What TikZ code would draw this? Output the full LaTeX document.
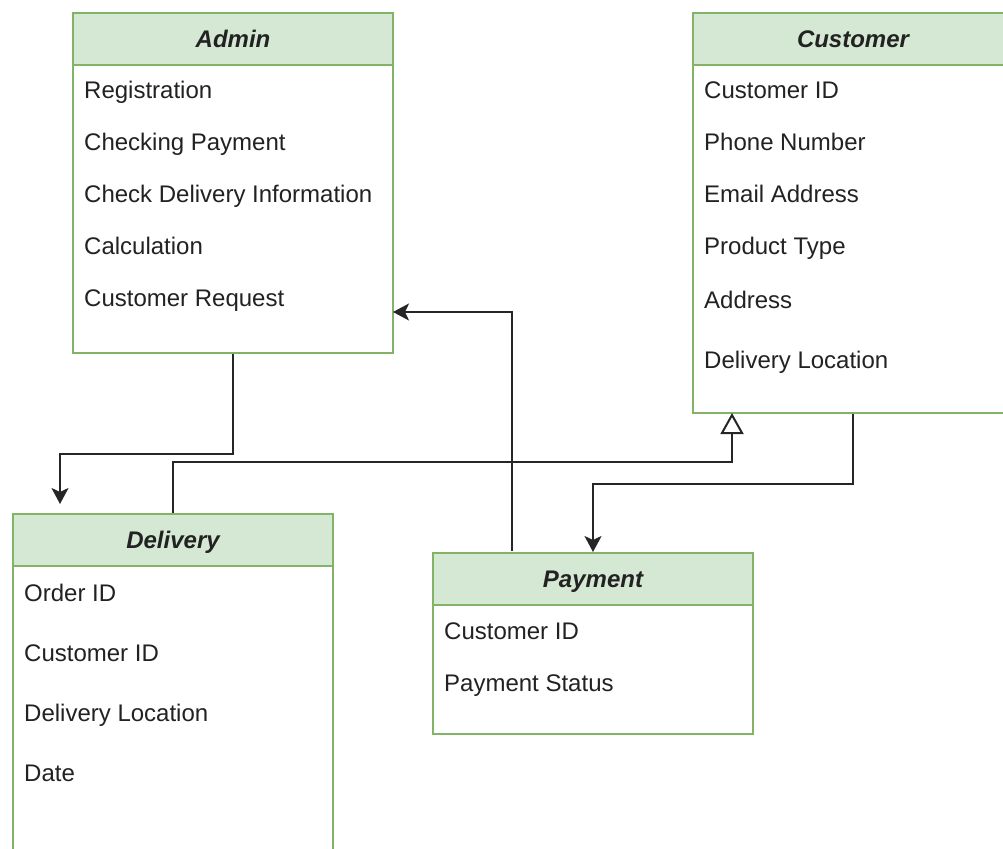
\documentclass[tikz,border=0pt]{standalone}
\usepackage{fontspec}
\setmainfont{Liberation Sans}
\usetikzlibrary{arrows.meta}
\definecolor{hdrfill}{HTML}{D5E8D4}
\definecolor{hdrline}{HTML}{82B366}
\definecolor{txt}{HTML}{222222}
\tikzset{
  x=1pt, y=-1pt,
  hdr/.style={draw=hdrline, fill=hdrfill, line width=2pt, minimum height=52pt, anchor=north west,
    font=\fontsize{24}{28}\selectfont\bfseries\itshape, text=txt, inner sep=0pt,
    text height=17pt, text depth=-1pt},
  bodybox/.style={draw=hdrline, fill=white, line width=2pt, anchor=north west, inner sep=0pt},
  item/.style={anchor=west, inner sep=0pt, text height=17pt, text depth=0pt,
    font=\fontsize{24}{28}\selectfont, text=txt},
  arr/.style={line width=2pt, draw=black!85, -{Stealth[length=16pt, width=17pt, inset=4pt]}},
  inh/.style={line width=2pt, draw=black!85, -{Triangle[open, length=21pt, width=23pt, line width=2pt]}},
}
\begin{document}
\begin{tikzpicture}
\useasboundingbox (0,0) rectangle (1003,848);
\clip (0,0) rectangle (1003,848);
% Admin
\node[bodybox, minimum width=320pt, minimum height=288pt] (adminb) at (72,64) {};
\node[hdr, minimum width=320pt] (admin) at (72,12) {Admin};
\node[item] (a1) at (84,90) {Registration};
\node[item] (a2) at (84,142) {Checking Payment};
\node[item] (a3) at (84,194) {Check Delivery Information};
\node[item] (a4) at (84,246) {Calculation};
\node[item] (a5) at (84,298) {Customer Request};
% Customer
\node[bodybox, minimum width=320pt, minimum height=348pt] (custb) at (692,64) {};
\node[hdr, minimum width=320pt] (cust) at (692,12) {Customer};
\node[item] (c1) at (704,90) {Customer ID};
\node[item] (c2) at (704,142) {Phone Number};
\node[item] (c3) at (704,194) {Email Address};
\node[item] (c4) at (704,246) {Product Type};
\node[item] (c5) at (704,300) {Address};
\node[item] (c6) at (704,360) {Delivery Location};
% Delivery
\node[bodybox, minimum width=320pt, minimum height=320pt] (delb) at (12,565) {};
\node[hdr, minimum width=320pt] (del) at (12,513) {Delivery};
\node[item] (d1) at (24,593) {Order ID};
\node[item] (d2) at (24,653) {Customer ID};
\node[item] (d3) at (24,713) {Delivery Location};
\node[item] (d4) at (24,773) {Date};
% Payment
\node[bodybox, minimum width=320pt, minimum height=129pt] (payb) at (432,604) {};
\node[hdr, minimum width=320pt] (pay) at (432,552) {Payment};
\node[item] (p1) at (444,631) {Customer ID};
\node[item] (p2) at (444,683) {Payment Status};
% connector end points
\coordinate (dtip) at (60,504);
\coordinate (cinh) at (732,413);
\coordinate (pout) at (512,551);
\coordinate (ain) at (393,312);
% connectors
\draw[arr] (adminb.south) -- ++(0,100) -| (dtip);
\draw[inh] (del.north) -- ++(0,-51) -| (cinh);
\draw[arr] (pout) |- (ain);
\draw[arr] (custb.south) -- ++(0,70) -| (pay.north);
\end{tikzpicture}
\end{document}
